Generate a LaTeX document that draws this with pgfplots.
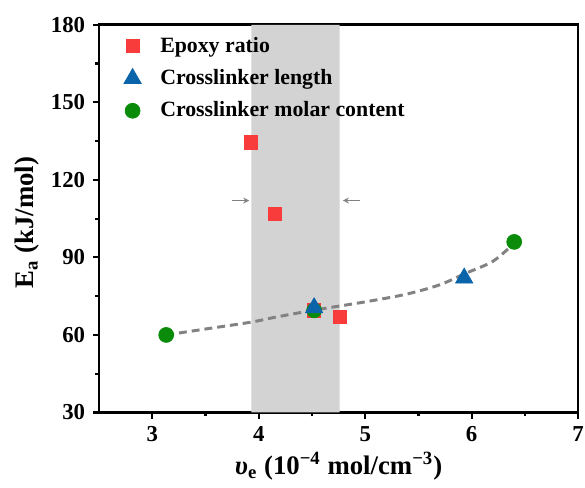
\documentclass[border=0pt]{standalone}
\usepackage{fontspec}
\setmainfont{Liberation Serif}
\usepackage{pgfplots}
\pgfplotsset{compat=1.18}
\usetikzlibrary{arrows.meta}
\definecolor{epred}{RGB}{248,60,60}
\definecolor{clblue}{RGB}{10,100,170}
\definecolor{clgreen}{RGB}{10,140,10}
\definecolor{band}{RGB}{211,211,211}
\definecolor{curvegray}{RGB}{130,130,130}
\begin{document}
\fontsize{11}{13}\selectfont\bfseries
\begin{tikzpicture}
\begin{axis}[
  scale only axis, width=241.5pt, height=195.5pt,
  xmin=2.5, xmax=7, ymin=30, ymax=180,
  xtick={3,4,5,6,7}, ytick={30,60,90,120,150,180},
  minor x tick num=1, minor y tick num=1,
  tick align=outside, xtick pos=left, ytick pos=left,
  major tick length=3.2pt, minor tick length=2pt,
  major tick style={black, line width=1.1pt},
  minor tick style={black, line width=1.1pt},
  axis line style={line width=1.3pt},
  tick label style={font=\fontsize{11.5}{13}\selectfont\bfseries},
  /pgf/number format/assume math mode=true,
  xlabel={\textit{υ}\textsubscript{e} (10\textsuperscript{−4} mol/cm\textsuperscript{−3})},
  ylabel={E\textsubscript{a} (kJ/mol)},
  every axis x label/.style={at={(axis description cs:0.5,-0.138)}, anchor=center},
  every axis y label/.style={at={(axis description cs:-0.151,0.49)}, rotate=90, anchor=center},
  label style={font=\fontsize{13.5}{16}\selectfont\bfseries},
  legend style={at={(axis description cs:0.033,0.99)}, anchor=north west, draw=none, fill=none,
    font=\fontsize{11}{13}\selectfont\bfseries, row sep=3pt},
  legend cell align=left,
  legend image code/.code={\path[draw=none,fill=none] (0,0) -- (0.62cm,0); \draw[#1] plot coordinates {(0.2cm,0cm)};},
]
\addlegendimage{only marks, mark=square*, mark size=3.3pt, color=epred}
\addlegendentry{Epoxy ratio}
\addlegendimage{only marks, mark=triangle*, mark size=5pt, color=clblue}
\addlegendentry{Crosslinker length}
\addlegendimage{only marks, mark=*, mark size=3.75pt, color=clgreen}
\addlegendentry{Crosslinker molar content}
% shaded band
\addplot[fill=band, draw=none, forget plot] coordinates {(3.93,30) (4.76,30) (4.76,180) (3.93,180)} \closedcycle;
% arrows
\addplot[-{Stealth[length=3pt,width=3pt]}, curvegray, line width=0.8pt, forget plot] coordinates {(3.75,112) (3.91,112)};
\addplot[-{Stealth[length=3pt,width=3pt]}, curvegray, line width=0.8pt, forget plot] coordinates {(4.95,112) (4.79,112)};
% data
\addplot[only marks, mark=square*, mark size=3.3pt, color=epred, forget plot] coordinates {(3.93,134.5) (4.15,106.7) (4.52,69.5) (4.76,67.1)};
\addplot[only marks, mark=*, mark size=3.75pt, color=clgreen, forget plot] coordinates {(3.13,60) (4.52,69.5) (6.4,96)};
\addplot[only marks, mark=triangle*, mark size=5pt, color=clblue, forget plot] coordinates {(4.52,70.5) (5.93,82)};
% fitted curve
\addplot[curvegray, line width=1.5pt, dash pattern=on 4pt off 2.5pt, smooth, forget plot] coordinates {
(3.13,60) (3.5,62.3) (3.92,64.9) (4.16,66.9) (4.52,69.6) (5.0,72.8) (5.39,75.8) (5.7,79.4) (5.93,83.6) (6.2,88.5) (6.4,95.5)};
\end{axis}
\pgfresetboundingbox
\useasboundingbox ([xshift=-50pt,yshift=-38pt]current axis.south west) rectangle ([xshift=3.5pt,yshift=12.5pt]current axis.north east);
\end{tikzpicture}
\end{document}
